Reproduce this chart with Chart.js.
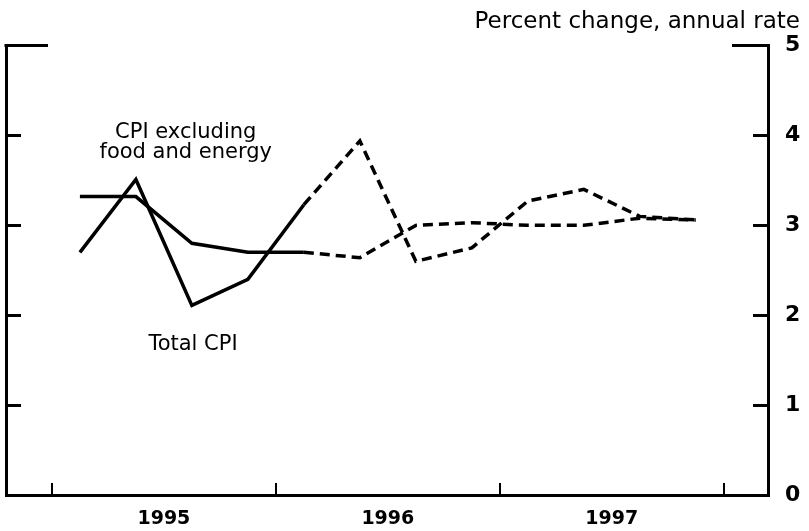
<!DOCTYPE html>
<html>
<head>
<meta charset="utf-8">
<title>CPI</title>
<script src="https://cdn.jsdelivr.net/npm/chart.js@4/dist/chart.umd.min.js"></script>
<style>
  html, body { margin: 0; padding: 0; background: #fff; }
  #wrap { width: 809px; height: 531px; }
</style>
</head>
<body>
<div id="wrap"><canvas id="cpi"></canvas></div>
<script>
const quarters = ["1995Q1", "1995Q2", "1995Q3", "1995Q4", "1996Q1", "1996Q2",
                  "1996Q3", "1996Q4", "1997Q1", "1997Q2", "1997Q3", "1997Q4"];
const years = ["1995", "1996", "1997"];
const totalCpi = [2.70, 3.51, 2.11, 2.40, 3.23, 3.94, 2.60, 2.75, 3.27, 3.40, 3.10, 3.06];
const coreCpi = [3.32, 3.32, 2.80, 2.70, 2.70, 2.64, 3.00, 3.03, 3.00, 3.00, 3.08, 3.06];
const yTicks = [0, 1, 2, 3, 4, 5];
const lastActual = 4; // 1996Q1, projection after that

// x runs over quarter index; year edges sit between Q4 and Q1
const yearEdges = [-0.5, 3.5, 7.5, 11.5];
const yearMids = years.map((y, i) => i * 4 + 1.5);

const notes = [
  { lines: ["CPI excluding", "food and energy"], x: 1.89, y: 4.03 },
  { lines: ["Total CPI"], x: 2.02, y: 1.67 },
];

Chart.defaults.font.family = "'DejaVu Sans', sans-serif";
Chart.defaults.color = "#000";

const toPoints = (arr) => arr.map((v, i) => ({ x: i, y: v }));
const dashAfterActual = (ctx) => (ctx.p0DataIndex >= lastActual ? [10, 6] : undefined);

const lineStyle = {
  borderColor: "#000",
  borderWidth: 3.5,
  pointRadius: 0,
  tension: 0,
  borderJoinStyle: "miter",
  borderCapStyle: "butt",
  segment: { borderDash: dashAfterActual },
};

// corner pieces of the frame on top
const framePlugin = {
  id: "frame",
  afterDraw(chart) {
    const { ctx, chartArea: a } = chart;
    ctx.save();
    ctx.strokeStyle = "#000";
    ctx.lineWidth = 3;
    ctx.beginPath();
    ctx.moveTo(a.left - 1.5, a.top);
    ctx.lineTo(a.left + 42, a.top);
    ctx.moveTo(a.right - 36, a.top);
    ctx.lineTo(a.right + 1.5, a.top);
    ctx.stroke();
    ctx.restore();
  },
};

const notesPlugin = {
  id: "notes",
  afterDatasetsDraw(chart) {
    const { ctx } = chart;
    const sx = chart.scales.x, sy = chart.scales.y;
    ctx.save();
    ctx.font = "21px 'DejaVu Sans', sans-serif";
    ctx.fillStyle = "#000";
    ctx.textAlign = "center";
    ctx.textBaseline = "middle";
    notes.forEach((n) => {
      const px = sx.getPixelForValue(n.x);
      const py = sy.getPixelForValue(n.y);
      n.lines.forEach((t, i) => ctx.fillText(t, px, py + i * 20));
    });
    ctx.restore();
  },
};

new Chart(document.getElementById("cpi"), {
  type: "line",
  data: {
    labels: quarters,
    datasets: [
      { label: "Total CPI", data: toPoints(totalCpi), ...lineStyle },
      { label: "CPI excluding food and energy", data: toPoints(coreCpi), ...lineStyle },
    ],
  },
  options: {
    responsive: true,
    maintainAspectRatio: false,
    devicePixelRatio: 1,
    animation: false,
    layout: { padding: { left: 0, right: 9, top: 0, bottom: 0 } },
    plugins: {
      legend: { display: false },
      tooltip: { enabled: false },
      title: {
        display: true,
        text: "Percent change, annual rate",
        align: "end",
        color: "#000",
        font: { size: 23, weight: "normal" },
        padding: { top: 8, bottom: 10 },
      },
    },
    scales: {
      x: {
        type: "linear",
        position: "bottom",
        weight: 1,
        min: -1.32,
        max: 12.29,
        afterBuildTicks: (ax) => { ax.ticks = yearMids.map((v) => ({ value: v })); },
        ticks: {
          callback: (v, i) => years[i],
          font: { size: 19, weight: "bold" },
          padding: 13,
          autoSkip: false,
          maxRotation: 0,
        },
        grid: { display: false, drawTicks: false },
        border: { display: true, color: "#000", width: 3 },
        afterFit: (ax) => { ax.height = 36; },
      },
      xq: {
        type: "linear",
        position: "bottom",
        weight: 0,
        min: -1.32,
        max: 12.29,
        afterBuildTicks: (ax) => { ax.ticks = yearEdges.map((v) => ({ value: v })); },
        ticks: { display: false },
        grid: { drawOnChartArea: false, drawTicks: true, tickLength: -12, color: "#000", lineWidth: 2 },
        border: { display: false },
        afterFit: (ax) => { ax.height = 0; },
      },
      y: {
        position: "right",
        min: 0,
        max: 5,
        afterBuildTicks: (ax) => { ax.ticks = yTicks.map((v) => ({ value: v })); },
        ticks: { font: { size: 22, weight: "bold" }, padding: 32 },
        grid: { drawOnChartArea: false, tickLength: -15, color: "#000", lineWidth: 3 },
        border: { display: true, color: "#000", width: 3 },
        afterFit: (ax) => {
          ax.width = 32;
          // the big tick padding would otherwise push the plot area in
          ax.paddingTop = 0;
          ax.paddingBottom = 0;
        },
      },
      yL: {
        position: "left",
        min: 0,
        max: 5,
        afterBuildTicks: (ax) => { ax.ticks = yTicks.map((v) => ({ value: v })); },
        ticks: { display: false },
        grid: { drawOnChartArea: false, tickLength: -15, color: "#000", lineWidth: 3 },
        border: { display: true, color: "#000", width: 3 },
        afterFit: (ax) => { ax.width = 6; },
      },
    },
  },
  plugins: [framePlugin, notesPlugin],
});
</script>
</body>
</html>
